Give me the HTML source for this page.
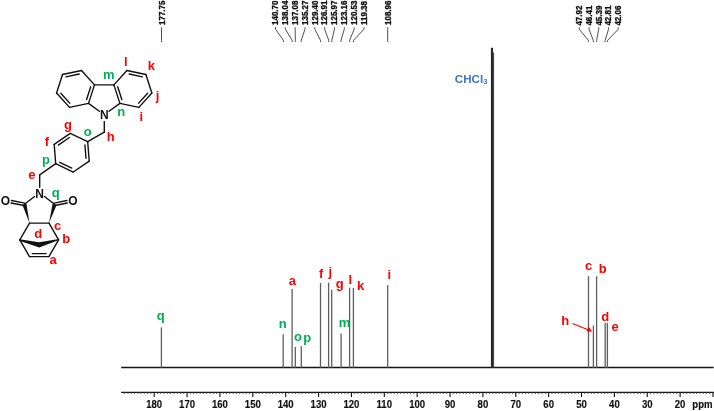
<!DOCTYPE html>
<html><head><meta charset="utf-8"><style>
html,body{margin:0;padding:0;background:#fff;}
body{width:714px;height:411px;overflow:hidden;}
svg{display:block;will-change:transform;font-family:"Liberation Sans",sans-serif;}
</style></head><body>
<svg width="714" height="411" viewBox="0 0 714 411">
<path d="M121.2 367.5 H713.6" stroke="#151515" stroke-width="1.5" fill="none"/>
<path d="M161.4 367.8 V327.4" stroke="#5e5e5e" stroke-width="1.3" fill="none"/>
<path d="M283.2 367.8 V334.2" stroke="#5e5e5e" stroke-width="1.3" fill="none"/>
<path d="M292.1 367.8 V289.0" stroke="#5e5e5e" stroke-width="1.3" fill="none"/>
<path d="M295.3 367.8 V347.0" stroke="#5e5e5e" stroke-width="1.3" fill="none"/>
<path d="M301.3 367.8 V346.2" stroke="#5e5e5e" stroke-width="1.3" fill="none"/>
<path d="M320.5 367.8 V283.1" stroke="#5e5e5e" stroke-width="1.3" fill="none"/>
<path d="M328.6 367.8 V282.6" stroke="#5e5e5e" stroke-width="1.3" fill="none"/>
<path d="M331.7 367.8 V289.7" stroke="#5e5e5e" stroke-width="1.3" fill="none"/>
<path d="M341.1 367.8 V333.4" stroke="#5e5e5e" stroke-width="1.3" fill="none"/>
<path d="M349.6 367.8 V287.6" stroke="#5e5e5e" stroke-width="1.3" fill="none"/>
<path d="M353.4 367.8 V287.9" stroke="#5e5e5e" stroke-width="1.3" fill="none"/>
<path d="M387.7 367.8 V285.2" stroke="#5e5e5e" stroke-width="1.3" fill="none"/>
<path d="M588.5 367.8 V276.2" stroke="#5e5e5e" stroke-width="1.3" fill="none"/>
<path d="M593.4 367.8 V325.5" stroke="#5e5e5e" stroke-width="1.3" fill="none"/>
<path d="M596.6 367.8 V276.2" stroke="#5e5e5e" stroke-width="1.3" fill="none"/>
<path d="M605.2 367.8 V322.9" stroke="#5e5e5e" stroke-width="1.3" fill="none"/>
<path d="M607.4 367.8 V322.9" stroke="#5e5e5e" stroke-width="1.3" fill="none"/>
<rect x="490.9" y="47.8" width="2.2" height="319.7" fill="#262626"/>
<rect x="492.9" y="52.6" width="1.2" height="314.9" fill="#484848"/>
<path d="M121.2 392.3 H713.8" stroke="#151515" stroke-width="1.15" fill="none"/>
<path d="M124.62 392.3 V394.1 M127.90 392.3 V394.1 M131.19 392.3 V394.1 M134.48 392.3 V394.1 M137.76 392.3 V394.1 M141.05 392.3 V394.1 M144.34 392.3 V394.1 M147.63 392.3 V394.1 M150.91 392.3 V394.1 M157.49 392.3 V394.1 M160.77 392.3 V394.1 M164.06 392.3 V394.1 M167.35 392.3 V394.1 M170.63 392.3 V394.1 M173.92 392.3 V394.1 M177.21 392.3 V394.1 M180.50 392.3 V394.1 M183.78 392.3 V394.1 M190.36 392.3 V394.1 M193.64 392.3 V394.1 M196.93 392.3 V394.1 M200.22 392.3 V394.1 M203.50 392.3 V394.1 M206.79 392.3 V394.1 M210.08 392.3 V394.1 M213.37 392.3 V394.1 M216.65 392.3 V394.1 M223.23 392.3 V394.1 M226.51 392.3 V394.1 M229.80 392.3 V394.1 M233.09 392.3 V394.1 M236.38 392.3 V394.1 M239.66 392.3 V394.1 M242.95 392.3 V394.1 M246.24 392.3 V394.1 M249.52 392.3 V394.1 M256.10 392.3 V394.1 M259.38 392.3 V394.1 M262.67 392.3 V394.1 M265.96 392.3 V394.1 M269.25 392.3 V394.1 M272.53 392.3 V394.1 M275.82 392.3 V394.1 M279.11 392.3 V394.1 M282.39 392.3 V394.1 M288.97 392.3 V394.1 M292.25 392.3 V394.1 M295.54 392.3 V394.1 M298.83 392.3 V394.1 M302.12 392.3 V394.1 M305.40 392.3 V394.1 M308.69 392.3 V394.1 M311.98 392.3 V394.1 M315.26 392.3 V394.1 M321.84 392.3 V394.1 M325.12 392.3 V394.1 M328.41 392.3 V394.1 M331.70 392.3 V394.1 M334.99 392.3 V394.1 M338.27 392.3 V394.1 M341.56 392.3 V394.1 M344.85 392.3 V394.1 M348.13 392.3 V394.1 M354.71 392.3 V394.1 M357.99 392.3 V394.1 M361.28 392.3 V394.1 M364.57 392.3 V394.1 M367.86 392.3 V394.1 M371.14 392.3 V394.1 M374.43 392.3 V394.1 M377.72 392.3 V394.1 M381.00 392.3 V394.1 M387.58 392.3 V394.1 M390.86 392.3 V394.1 M394.15 392.3 V394.1 M397.44 392.3 V394.1 M400.73 392.3 V394.1 M404.01 392.3 V394.1 M407.30 392.3 V394.1 M410.59 392.3 V394.1 M413.87 392.3 V394.1 M420.45 392.3 V394.1 M423.73 392.3 V394.1 M427.02 392.3 V394.1 M430.31 392.3 V394.1 M433.59 392.3 V394.1 M436.88 392.3 V394.1 M440.17 392.3 V394.1 M443.46 392.3 V394.1 M446.74 392.3 V394.1 M453.32 392.3 V394.1 M456.60 392.3 V394.1 M459.89 392.3 V394.1 M463.18 392.3 V394.1 M466.46 392.3 V394.1 M469.75 392.3 V394.1 M473.04 392.3 V394.1 M476.33 392.3 V394.1 M479.61 392.3 V394.1 M486.19 392.3 V394.1 M489.47 392.3 V394.1 M492.76 392.3 V394.1 M496.05 392.3 V394.1 M499.33 392.3 V394.1 M502.62 392.3 V394.1 M505.91 392.3 V394.1 M509.20 392.3 V394.1 M512.48 392.3 V394.1 M519.06 392.3 V394.1 M522.34 392.3 V394.1 M525.63 392.3 V394.1 M528.92 392.3 V394.1 M532.20 392.3 V394.1 M535.49 392.3 V394.1 M538.78 392.3 V394.1 M542.07 392.3 V394.1 M545.35 392.3 V394.1 M551.93 392.3 V394.1 M555.21 392.3 V394.1 M558.50 392.3 V394.1 M561.79 392.3 V394.1 M565.08 392.3 V394.1 M568.36 392.3 V394.1 M571.65 392.3 V394.1 M574.94 392.3 V394.1 M578.22 392.3 V394.1 M584.80 392.3 V394.1 M588.08 392.3 V394.1 M591.37 392.3 V394.1 M594.66 392.3 V394.1 M597.94 392.3 V394.1 M601.23 392.3 V394.1 M604.52 392.3 V394.1 M607.81 392.3 V394.1 M611.09 392.3 V394.1 M617.67 392.3 V394.1 M620.95 392.3 V394.1 M624.24 392.3 V394.1 M627.53 392.3 V394.1 M630.82 392.3 V394.1 M634.10 392.3 V394.1 M637.39 392.3 V394.1 M640.68 392.3 V394.1 M643.96 392.3 V394.1 M650.54 392.3 V394.1 M653.82 392.3 V394.1 M657.11 392.3 V394.1 M660.40 392.3 V394.1 M663.68 392.3 V394.1 M666.97 392.3 V394.1 M670.26 392.3 V394.1 M673.55 392.3 V394.1 M676.83 392.3 V394.1 M683.41 392.3 V394.1 M686.69 392.3 V394.1 M689.98 392.3 V394.1 M693.27 392.3 V394.1 M696.56 392.3 V394.1 M699.84 392.3 V394.1 M703.13 392.3 V394.1 M706.42 392.3 V394.1 M709.70 392.3 V394.1" stroke="#444" stroke-width="0.85" fill="none"/>
<path d="M154.20 392.3 V396.90000000000003 M187.07 392.3 V396.90000000000003 M219.94 392.3 V396.90000000000003 M252.81 392.3 V396.90000000000003 M285.68 392.3 V396.90000000000003 M318.55 392.3 V396.90000000000003 M351.42 392.3 V396.90000000000003 M384.29 392.3 V396.90000000000003 M417.16 392.3 V396.90000000000003 M450.03 392.3 V396.90000000000003 M482.90 392.3 V396.90000000000003 M515.77 392.3 V396.90000000000003 M548.64 392.3 V396.90000000000003 M581.51 392.3 V396.90000000000003 M614.38 392.3 V396.90000000000003 M647.25 392.3 V396.90000000000003 M680.12 392.3 V396.90000000000003 M712.99 392.3 V396.90000000000003" stroke="#111" stroke-width="1.1" fill="none"/>
<text transform="translate(154.20 407.7) scale(1 1.05)" font-size="9.6" font-weight="bold" text-anchor="middle" fill="#111" stroke="#111" stroke-width="0.15">180</text>
<text transform="translate(187.07 407.7) scale(1 1.05)" font-size="9.6" font-weight="bold" text-anchor="middle" fill="#111" stroke="#111" stroke-width="0.15">170</text>
<text transform="translate(219.94 407.7) scale(1 1.05)" font-size="9.6" font-weight="bold" text-anchor="middle" fill="#111" stroke="#111" stroke-width="0.15">160</text>
<text transform="translate(252.81 407.7) scale(1 1.05)" font-size="9.6" font-weight="bold" text-anchor="middle" fill="#111" stroke="#111" stroke-width="0.15">150</text>
<text transform="translate(285.68 407.7) scale(1 1.05)" font-size="9.6" font-weight="bold" text-anchor="middle" fill="#111" stroke="#111" stroke-width="0.15">140</text>
<text transform="translate(318.55 407.7) scale(1 1.05)" font-size="9.6" font-weight="bold" text-anchor="middle" fill="#111" stroke="#111" stroke-width="0.15">130</text>
<text transform="translate(351.42 407.7) scale(1 1.05)" font-size="9.6" font-weight="bold" text-anchor="middle" fill="#111" stroke="#111" stroke-width="0.15">120</text>
<text transform="translate(384.29 407.7) scale(1 1.05)" font-size="9.6" font-weight="bold" text-anchor="middle" fill="#111" stroke="#111" stroke-width="0.15">110</text>
<text transform="translate(417.16 407.7) scale(1 1.05)" font-size="9.6" font-weight="bold" text-anchor="middle" fill="#111" stroke="#111" stroke-width="0.15">100</text>
<text transform="translate(450.03 407.7) scale(1 1.05)" font-size="9.6" font-weight="bold" text-anchor="middle" fill="#111" stroke="#111" stroke-width="0.15">90</text>
<text transform="translate(482.90 407.7) scale(1 1.05)" font-size="9.6" font-weight="bold" text-anchor="middle" fill="#111" stroke="#111" stroke-width="0.15">80</text>
<text transform="translate(515.77 407.7) scale(1 1.05)" font-size="9.6" font-weight="bold" text-anchor="middle" fill="#111" stroke="#111" stroke-width="0.15">70</text>
<text transform="translate(548.64 407.7) scale(1 1.05)" font-size="9.6" font-weight="bold" text-anchor="middle" fill="#111" stroke="#111" stroke-width="0.15">60</text>
<text transform="translate(581.51 407.7) scale(1 1.05)" font-size="9.6" font-weight="bold" text-anchor="middle" fill="#111" stroke="#111" stroke-width="0.15">50</text>
<text transform="translate(614.38 407.7) scale(1 1.05)" font-size="9.6" font-weight="bold" text-anchor="middle" fill="#111" stroke="#111" stroke-width="0.15">40</text>
<text transform="translate(647.25 407.7) scale(1 1.05)" font-size="9.6" font-weight="bold" text-anchor="middle" fill="#111" stroke="#111" stroke-width="0.15">30</text>
<text transform="translate(680.12 407.7) scale(1 1.05)" font-size="9.6" font-weight="bold" text-anchor="middle" fill="#111" stroke="#111" stroke-width="0.15">20</text>
<text transform="translate(692.3 407.7) scale(1 1.05)" font-size="9.6" font-weight="bold" fill="#111" stroke="#111" stroke-width="0.15">ppm</text>
<text transform="translate(164.57 25.0) rotate(-90) scale(1 1.12)" font-size="8.0" font-weight="bold" fill="#111" stroke="#111" stroke-width="0.3">177.75</text>
<path d="M161.50 27.3 V29.2 L161.50 40.3 V42.0" stroke="#444" stroke-width="0.95" fill="none"/>
<text transform="translate(278.27 25.0) rotate(-90) scale(1 1.12)" font-size="8.0" font-weight="bold" fill="#111" stroke="#111" stroke-width="0.3">140.70</text>
<path d="M275.50 27.3 V29.2 L283.38 40.3 V42.0" stroke="#444" stroke-width="0.95" fill="none"/>
<text transform="translate(288.10 25.0) rotate(-90) scale(1 1.12)" font-size="8.0" font-weight="bold" fill="#111" stroke="#111" stroke-width="0.3">138.04</text>
<path d="M285.33 27.3 V29.2 L292.12 40.3 V42.0" stroke="#444" stroke-width="0.95" fill="none"/>
<text transform="translate(297.93 25.0) rotate(-90) scale(1 1.12)" font-size="8.0" font-weight="bold" fill="#111" stroke="#111" stroke-width="0.3">137.08</text>
<path d="M295.16 27.3 V29.2 L295.28 40.3 V42.0" stroke="#444" stroke-width="0.95" fill="none"/>
<text transform="translate(307.76 25.0) rotate(-90) scale(1 1.12)" font-size="8.0" font-weight="bold" fill="#111" stroke="#111" stroke-width="0.3">135.27</text>
<path d="M304.99 27.3 V29.2 L301.23 40.3 V42.0" stroke="#444" stroke-width="0.95" fill="none"/>
<text transform="translate(317.59 25.0) rotate(-90) scale(1 1.12)" font-size="8.0" font-weight="bold" fill="#111" stroke="#111" stroke-width="0.3">129.40</text>
<path d="M314.82 27.3 V29.2 L320.52 40.3 V42.0" stroke="#444" stroke-width="0.95" fill="none"/>
<text transform="translate(327.42 25.0) rotate(-90) scale(1 1.12)" font-size="8.0" font-weight="bold" fill="#111" stroke="#111" stroke-width="0.3">126.91</text>
<path d="M324.65 27.3 V29.2 L328.71 40.3 V42.0" stroke="#444" stroke-width="0.95" fill="none"/>
<text transform="translate(337.25 25.0) rotate(-90) scale(1 1.12)" font-size="8.0" font-weight="bold" fill="#111" stroke="#111" stroke-width="0.3">125.97</text>
<path d="M334.48 27.3 V29.2 L331.80 40.3 V42.0" stroke="#444" stroke-width="0.95" fill="none"/>
<text transform="translate(347.08 25.0) rotate(-90) scale(1 1.12)" font-size="8.0" font-weight="bold" fill="#111" stroke="#111" stroke-width="0.3">123.16</text>
<path d="M344.31 27.3 V29.2 L341.03 40.3 V42.0" stroke="#444" stroke-width="0.95" fill="none"/>
<text transform="translate(356.91 25.0) rotate(-90) scale(1 1.12)" font-size="8.0" font-weight="bold" fill="#111" stroke="#111" stroke-width="0.3">120.53</text>
<path d="M354.14 27.3 V29.2 L349.68 40.3 V42.0" stroke="#444" stroke-width="0.95" fill="none"/>
<text transform="translate(366.74 25.0) rotate(-90) scale(1 1.12)" font-size="8.0" font-weight="bold" fill="#111" stroke="#111" stroke-width="0.3">119.38</text>
<path d="M363.97 27.3 V29.2 L353.46 40.3 V42.0" stroke="#444" stroke-width="0.95" fill="none"/>
<text transform="translate(390.77 25.0) rotate(-90) scale(1 1.12)" font-size="8.0" font-weight="bold" fill="#111" stroke="#111" stroke-width="0.3">108.96</text>
<path d="M387.70 27.3 V29.2 L387.70 40.3 V42.0" stroke="#444" stroke-width="0.95" fill="none"/>
<text transform="translate(581.97 25.6) rotate(-90) scale(1 1.12)" font-size="8.0" font-weight="bold" fill="#111" stroke="#111" stroke-width="0.3">47.92</text>
<path d="M579.20 27.3 V29.2 L588.35 40.3 V42.0" stroke="#444" stroke-width="0.95" fill="none"/>
<text transform="translate(591.74 25.6) rotate(-90) scale(1 1.12)" font-size="8.0" font-weight="bold" fill="#111" stroke="#111" stroke-width="0.3">46.41</text>
<path d="M588.97 27.3 V29.2 L593.31 40.3 V42.0" stroke="#444" stroke-width="0.95" fill="none"/>
<text transform="translate(601.51 25.6) rotate(-90) scale(1 1.12)" font-size="8.0" font-weight="bold" fill="#111" stroke="#111" stroke-width="0.3">45.39</text>
<path d="M598.74 27.3 V29.2 L596.66 40.3 V42.0" stroke="#444" stroke-width="0.95" fill="none"/>
<text transform="translate(611.28 25.6) rotate(-90) scale(1 1.12)" font-size="8.0" font-weight="bold" fill="#111" stroke="#111" stroke-width="0.3">42.81</text>
<path d="M608.51 27.3 V29.2 L605.14 40.3 V42.0" stroke="#444" stroke-width="0.95" fill="none"/>
<text transform="translate(621.05 25.6) rotate(-90) scale(1 1.12)" font-size="8.0" font-weight="bold" fill="#111" stroke="#111" stroke-width="0.3">42.06</text>
<path d="M618.28 27.3 V29.2 L607.61 40.3 V42.0" stroke="#444" stroke-width="0.95" fill="none"/>
<text x="156.65" y="320.25" font-size="13" fill="#00b050" font-weight="bold">q</text>
<text x="278.70" y="327.85" font-size="13" fill="#00b050" font-weight="bold">n</text>
<text x="288.65" y="285.28" font-size="13" fill="#ff0000" font-weight="bold">a</text>
<text x="293.93" y="341.43" font-size="13" fill="#00b050" font-weight="bold">o</text>
<text x="303.37" y="342.31" font-size="13" fill="#00b050" font-weight="bold">p</text>
<text x="319.01" y="278.21" font-size="13" fill="#ff0000" font-weight="bold">f</text>
<text x="328.40" y="275.66" font-size="13" fill="#ff0000" font-weight="bold">j</text>
<text x="335.75" y="288.27" font-size="13" fill="#ff0000" font-weight="bold">g</text>
<text x="338.65" y="327.05" font-size="13" fill="#00b050" font-weight="bold">m</text>
<text x="348.45" y="283.96" font-size="13" fill="#ff0000" font-weight="bold">l</text>
<text x="357.07" y="289.76" font-size="13" fill="#ff0000" font-weight="bold">k</text>
<text x="387.60" y="278.56" font-size="13" fill="#ff0000" font-weight="bold">i</text>
<text x="584.92" y="270.03" font-size="13" fill="#ff0000" font-weight="bold">c</text>
<text x="598.72" y="272.70" font-size="13" fill="#ff0000" font-weight="bold">b</text>
<text x="561.13" y="324.76" font-size="13" fill="#ff0000" font-weight="bold">h</text>
<text x="601.14" y="320.55" font-size="13" fill="#ff0000" font-weight="bold">d</text>
<text x="611.50" y="331.08" font-size="13" fill="#ff0000" font-weight="bold">e</text>
<path d="M572.5 323.6 L588.0 329.8" stroke="#ff0000" stroke-width="1.1" fill="none"/>
<path d="M592.2 331.4 L586.6 331.6 L588.4 326.6 Z" fill="#ff0000"/>
<text x="454.8" y="82.6" font-size="11.6" font-weight="bold" fill="#4472c4">CHCl<tspan font-size="7.6" dy="1.8">3</tspan></text>
<path d="M113.90 84.90 L126.88 70.48" stroke="#111" stroke-width="1.4" stroke-linecap="round" fill="none"/>
<path d="M126.88 70.48 L145.86 74.52" stroke="#111" stroke-width="1.4" stroke-linecap="round" fill="none"/>
<path d="M145.86 74.52 L151.85 92.97" stroke="#111" stroke-width="1.4" stroke-linecap="round" fill="none"/>
<path d="M151.85 92.97 L138.87 107.38" stroke="#111" stroke-width="1.4" stroke-linecap="round" fill="none"/>
<path d="M138.87 107.38 L119.89 103.35" stroke="#111" stroke-width="1.4" stroke-linecap="round" fill="none"/>
<path d="M119.89 103.35 L113.90 84.90" stroke="#111" stroke-width="1.4" stroke-linecap="round" fill="none"/>
<path d="M129.19 74.04 L142.30 76.83" stroke="#111" stroke-width="1.4" stroke-linecap="round" fill="none"/>
<path d="M147.62 93.19 L138.65 103.15" stroke="#111" stroke-width="1.4" stroke-linecap="round" fill="none"/>
<path d="M121.82 99.57 L117.68 86.83" stroke="#111" stroke-width="1.4" stroke-linecap="round" fill="none"/>
<path d="M94.50 84.90 L81.52 70.48" stroke="#111" stroke-width="1.4" stroke-linecap="round" fill="none"/>
<path d="M81.52 70.48 L62.54 74.52" stroke="#111" stroke-width="1.4" stroke-linecap="round" fill="none"/>
<path d="M62.54 74.52 L56.55 92.97" stroke="#111" stroke-width="1.4" stroke-linecap="round" fill="none"/>
<path d="M56.55 92.97 L69.53 107.38" stroke="#111" stroke-width="1.4" stroke-linecap="round" fill="none"/>
<path d="M69.53 107.38 L88.51 103.35" stroke="#111" stroke-width="1.4" stroke-linecap="round" fill="none"/>
<path d="M88.51 103.35 L94.50 84.90" stroke="#111" stroke-width="1.4" stroke-linecap="round" fill="none"/>
<path d="M79.21 74.04 L66.10 76.83" stroke="#111" stroke-width="1.4" stroke-linecap="round" fill="none"/>
<path d="M60.78 93.19 L69.75 103.15" stroke="#111" stroke-width="1.4" stroke-linecap="round" fill="none"/>
<path d="M86.58 99.57 L90.72 86.83" stroke="#111" stroke-width="1.4" stroke-linecap="round" fill="none"/>
<path d="M94.50 84.90 L113.90 84.90" stroke="#111" stroke-width="1.4" stroke-linecap="round" fill="none"/>
<path d="M88.51 103.35 L99.35 111.23" stroke="#111" stroke-width="1.4" stroke-linecap="round" fill="none"/>
<path d="M119.89 103.35 L109.05 111.23" stroke="#111" stroke-width="1.4" stroke-linecap="round" fill="none"/>
<path d="M104.30 121.60 L104.30 132.20" stroke="#111" stroke-width="1.4" stroke-linecap="round" fill="none"/>
<path d="M70.18 133.36 L87.69 141.71" stroke="#111" stroke-width="1.4" stroke-linecap="round" fill="none"/>
<path d="M87.69 141.71 L89.21 161.05" stroke="#111" stroke-width="1.4" stroke-linecap="round" fill="none"/>
<path d="M89.21 161.05 L73.22 172.04" stroke="#111" stroke-width="1.4" stroke-linecap="round" fill="none"/>
<path d="M73.22 172.04 L55.71 163.69" stroke="#111" stroke-width="1.4" stroke-linecap="round" fill="none"/>
<path d="M55.71 163.69 L54.19 144.35" stroke="#111" stroke-width="1.4" stroke-linecap="round" fill="none"/>
<path d="M54.19 144.35 L70.18 133.36" stroke="#111" stroke-width="1.4" stroke-linecap="round" fill="none"/>
<path d="M58.36 145.12 L69.40 137.53" stroke="#111" stroke-width="1.4" stroke-linecap="round" fill="none"/>
<path d="M84.93 144.94 L85.98 158.30" stroke="#111" stroke-width="1.4" stroke-linecap="round" fill="none"/>
<path d="M71.81 168.04 L59.71 162.27" stroke="#111" stroke-width="1.4" stroke-linecap="round" fill="none"/>
<path d="M87.69 141.71 L104.30 132.20" stroke="#111" stroke-width="1.4" stroke-linecap="round" fill="none"/>
<path d="M55.71 163.69 L39.70 174.90" stroke="#111" stroke-width="1.4" stroke-linecap="round" fill="none"/>
<path d="M39.70 174.90 L39.70 187.30" stroke="#111" stroke-width="1.4" stroke-linecap="round" fill="none"/>
<path d="M34.57 196.56 L24.40 204.30" stroke="#111" stroke-width="1.4" stroke-linecap="round" fill="none"/>
<path d="M44.43 196.56 L54.60 204.30" stroke="#111" stroke-width="1.4" stroke-linecap="round" fill="none"/>
<path d="M29.50 223.10 L49.00 223.10" stroke="#111" stroke-width="1.4" stroke-linecap="round" fill="none"/>
<path d="M22.37 204.85 L26.43 203.75 L29.50 223.10 Z" fill="#111"/>
<path d="M52.59 203.70 L56.61 204.90 L49.00 223.10 Z" fill="#111"/>
<path d="M24.64 203.07 L11.48 200.52" stroke="#111" stroke-width="1.4" stroke-linecap="round" fill="none"/>
<path d="M24.16 205.53 L11.00 202.97" stroke="#111" stroke-width="1.4" stroke-linecap="round" fill="none"/>
<path d="M54.85 205.53 L67.36 203.01" stroke="#111" stroke-width="1.4" stroke-linecap="round" fill="none"/>
<path d="M54.35 203.07 L66.87 200.56" stroke="#111" stroke-width="1.4" stroke-linecap="round" fill="none"/>
<path d="M29.50 223.10 L19.80 239.80" stroke="#111" stroke-width="1.4" stroke-linecap="round" fill="none"/>
<path d="M49.00 223.10 L58.60 239.80" stroke="#111" stroke-width="1.4" stroke-linecap="round" fill="none"/>
<path d="M58.60 239.80 L48.90 256.60" stroke="#111" stroke-width="1.4" stroke-linecap="round" fill="none"/>
<path d="M48.90 256.60 L29.50 256.60" stroke="#111" stroke-width="1.4" stroke-linecap="round" fill="none"/>
<path d="M29.50 256.60 L19.80 239.80" stroke="#111" stroke-width="1.4" stroke-linecap="round" fill="none"/>
<path d="M46.10 253.60 L32.30 253.60" stroke="#111" stroke-width="1.4" stroke-linecap="round" fill="none"/>
<path d="M19.4 239.3 L39.2 242.3 L59.0 238.9 L59.0 240.1 L39.2 247.6 L19.4 240.7 Z" fill="#111"/>
<text x="123.95" y="65.51" font-size="13" fill="#ff0000" font-weight="bold">l</text>
<text x="147.77" y="69.66" font-size="13" fill="#ff0000" font-weight="bold">k</text>
<text x="103.05" y="78.65" font-size="13" fill="#00b050" font-weight="bold">m</text>
<text x="155.85" y="99.81" font-size="13" fill="#ff0000" font-weight="bold">j</text>
<text x="139.55" y="121.46" font-size="13" fill="#ff0000" font-weight="bold">i</text>
<text x="117.15" y="115.75" font-size="13" fill="#00b050" font-weight="bold">n</text>
<text x="64.00" y="128.97" font-size="13" fill="#ff0000" font-weight="bold">g</text>
<text x="83.83" y="136.03" font-size="13" fill="#00b050" font-weight="bold">o</text>
<text x="106.78" y="141.06" font-size="13" fill="#ff0000" font-weight="bold">h</text>
<text x="44.86" y="146.46" font-size="13" fill="#ff0000" font-weight="bold">f</text>
<text x="41.97" y="164.46" font-size="13" fill="#00b050" font-weight="bold">p</text>
<text x="28.30" y="178.88" font-size="13" fill="#ff0000" font-weight="bold">e</text>
<text x="51.65" y="197.35" font-size="13" fill="#00b050" font-weight="bold">q</text>
<text x="53.97" y="230.13" font-size="13" fill="#ff0000" font-weight="bold">c</text>
<text x="34.19" y="238.00" font-size="13" fill="#ff0000" font-weight="bold">d</text>
<text x="62.17" y="243.35" font-size="13" fill="#ff0000" font-weight="bold">b</text>
<text x="49.50" y="263.88" font-size="13" fill="#ff0000" font-weight="bold">a</text>
<text x="99.97" y="118.98" font-size="12" fill="#111" font-weight="bold">N</text>
<text x="35.17" y="197.83" font-size="12" fill="#111" font-weight="bold">N</text>
<text x="0.69" y="204.73" font-size="12" fill="#111" font-weight="bold">O</text>
<text x="68.29" y="204.73" font-size="12" fill="#111" font-weight="bold">O</text>
</svg>
</body></html>
